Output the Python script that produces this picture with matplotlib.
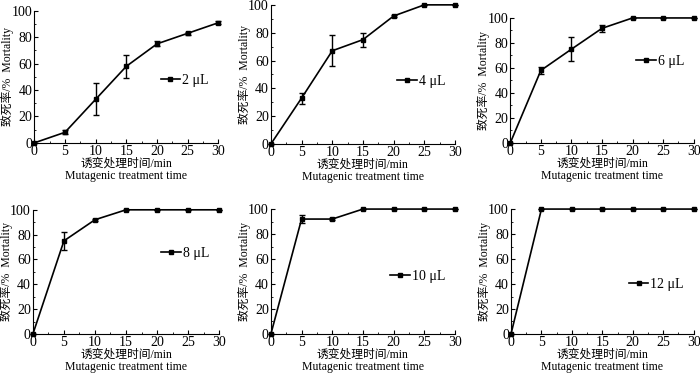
import matplotlib

matplotlib.use("Agg")
import matplotlib.pyplot as plt
from matplotlib.ticker import MultipleLocator

plt.rcParams["font.family"] = ["Liberation Serif", "Noto Sans CJK SC"]

times = [0, 5, 10, 15, 20, 25, 30]
doses = ["2 μL", "4 μL", "6 μL", "8 μL", "10 μL", "12 μL"]
mortality = [
    [0, 8, 33, 58, 75, 83, 91],
    [0, 33, 67, 75, 92, 100, 100],
    [0, 58, 75, 91.7, 100, 100, 100],
    [0, 75, 92, 100, 100, 100, 100],
    [0, 92, 92, 100, 100, 100, 100],
    [0, 100, 100, 100, 100, 100, 100],
]
errors = [
    [0, 1.5, 12, 8.5, 2, 1, 1],
    [0, 4, 11, 5, 1, 0, 0],
    [0, 3, 9.5, 3, 0, 0, 0],
    [0, 7, 1, 0, 0, 0, 0],
    [0, 3, 1, 0, 0, 0, 0],
    [0, 0, 0, 0, 0, 0, 0],
]

# axes boxes [left, bottom, width, height] in figure fractions
boxes = [
    [0.049, 0.618, 0.263, 0.353],
    [0.387, 0.615, 0.263, 0.372],
    [0.729, 0.618, 0.262, 0.334],
    [0.047, 0.107, 0.266, 0.332],
    [0.387, 0.107, 0.263, 0.334],
    [0.730, 0.107, 0.261, 0.334],
]
legend_y = [0.47, 0.45, 0.65, 0.65, 0.46, 0.40]

fig = plt.figure(figsize=(7.0, 3.74), dpi=100)
for i, box in enumerate(boxes):
    ax = fig.add_axes(box)
    ax.errorbar(times, mortality[i], yerr=errors[i], fmt="none", ecolor="black",
                capsize=2, elinewidth=1.0, capthick=1.0, clip_on=False)
    ax.plot(times, mortality[i], color="black", lw=1.2, marker="s", ms=2.5,
            label=doses[i], clip_on=False)
    ax.set_xlim(0, 30)
    ax.set_ylim(0, 100)
    ax.xaxis.set_major_locator(MultipleLocator(5))
    ax.xaxis.set_minor_locator(MultipleLocator(2.5))
    ax.yaxis.set_major_locator(MultipleLocator(20))
    ax.yaxis.set_minor_locator(MultipleLocator(10))
    ax.tick_params(direction="in", which="both", labelsize=10, pad=1.5)
    ax.tick_params(which="major", length=3)
    ax.tick_params(which="minor", length=1.5)
    for s in ("top", "right"):
        ax.spines[s].set_visible(False)
    ax.set_xlabel("诱变处理时间/min\nMutagenic treatment time", fontsize=8.5,
                  labelpad=0, linespacing=1.0)
    ax.set_ylabel("致死率/%  Mortality", fontsize=8.5)
    ax.yaxis.set_label_coords(-20 / (box[2] * 700), 0.5)
    ax.legend(loc="center right", bbox_to_anchor=(1.0, legend_y[i]), frameon=False,
              fontsize=10, handlelength=1.4, handletextpad=0.15, borderaxespad=0.3)

fig.savefig("out.png", dpi=100)
